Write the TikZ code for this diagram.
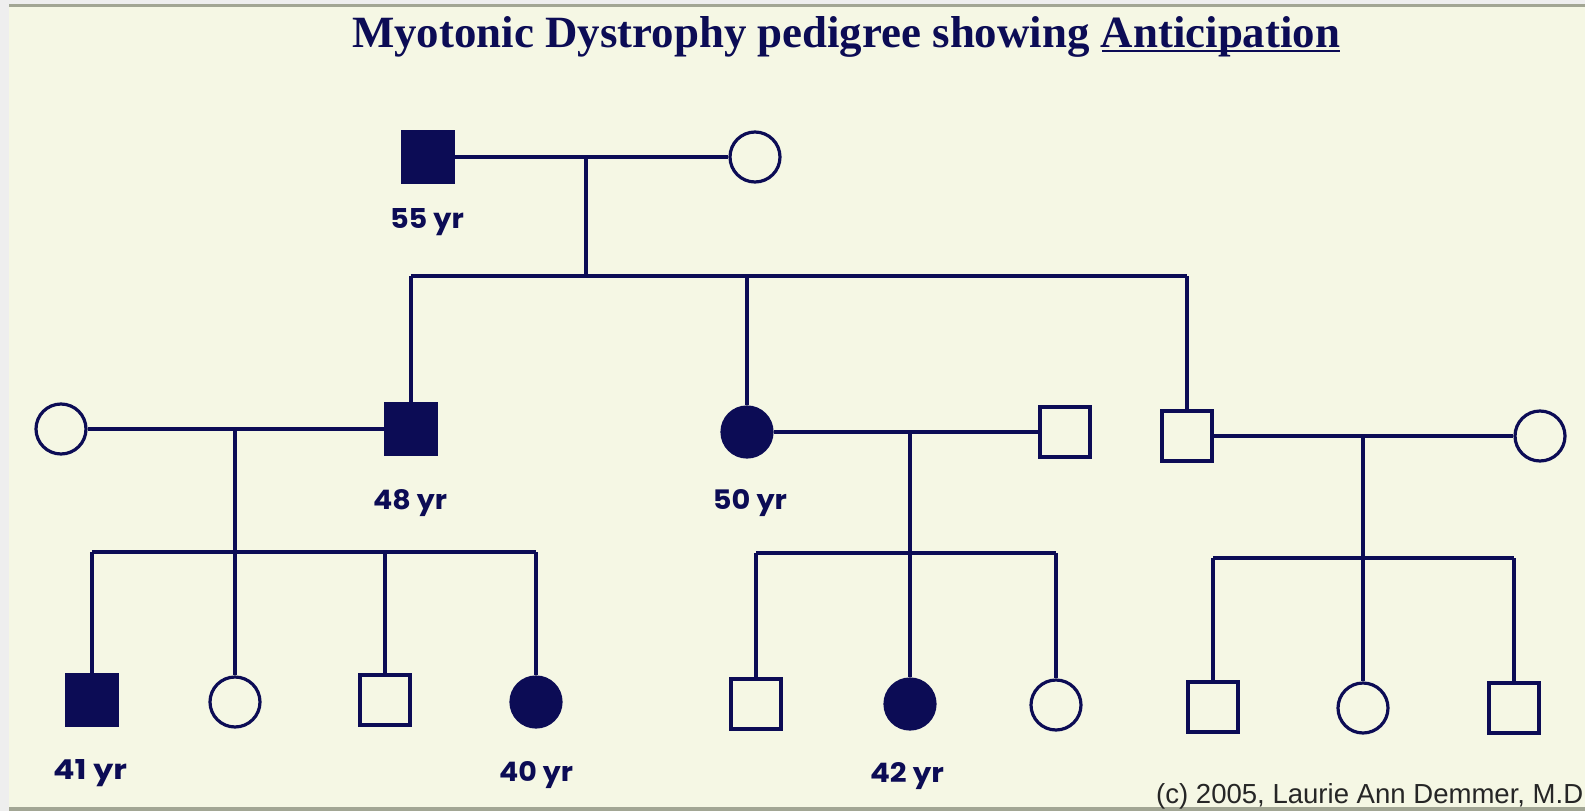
\documentclass[tikz,border=0pt]{standalone}
\usepackage{fontspec}
\usepackage{graphicx}
\setmainfont{Liberation Serif}
\newfontfamily\agefont{Poppins}
\newfontfamily\copyfont{Liberation Sans}
\definecolor{navy}{HTML}{0C0C55}
\definecolor{bgy}{HTML}{F5F7E4}
\definecolor{edgegray}{HTML}{EEEEEE}
\definecolor{rulegray}{HTML}{A2A694}
\newcommand\agetxt[1]{\resizebox{74pt}{20pt}{\agefont\bfseries #1}}
\begin{document}
\begin{tikzpicture}[x=1pt,y=-1pt,
  ln/.style={draw=navy,line width=3.2pt},
  male/.style={rectangle,draw=navy,line width=3.2pt,minimum size=50pt,inner sep=0pt,fill=bgy},
  female/.style={circle,draw=navy,line width=3.2pt,minimum size=50pt,inner sep=0pt,fill=bgy},
  aff/.style={fill=navy},
  agelbl/.style={anchor=base,inner sep=0pt,text=navy}]
\useasboundingbox (0,0) rectangle (1585,811);
% frame and background
\fill[edgegray] (0,0) rectangle (1585,811);
\fill[bgy] (9,6.5) rectangle (1585,807);
\fill[rulegray] (9,4) rectangle (1585,6.5);
\fill[rulegray] (9,807) rectangle (1585,811);

% title
\node[anchor=base west,inner sep=0pt,text=navy] (title) at (352,47)
  {\resizebox{988pt}{31pt}{\bfseries Myotonic Dystrophy pedigree showing Anticipation}};
\draw[navy,line width=2.2pt] ([xshift=-238pt,yshift=-4pt]title.base east) -- ([yshift=-4pt]title.base east);

% generation I
\node[male,aff] (g1m) at (428,157) {};
\node[female] (g1f) at (755,157) {};
\coordinate (g1c) at (586,157);
\coordinate (g1s) at (586,276);

% generation II
\node[female] (g2aw) at (61,429) {};
\node[male,aff] (g2a) at (411,429) {};
\node[female,aff] (g2b) at (747,432) {};
\node[male] (g2bh) at (1065,432) {};
\node[male] (g2c) at (1187,436) {};
\node[female] (g2cw) at (1540,436) {};
\coordinate (fa) at (235,429);
\coordinate (sa) at (235,552);
\coordinate (fb) at (910,432);
\coordinate (sb) at (910,553);
\coordinate (fc) at (1363,436);
\coordinate (sc) at (1363,558);

% generation III
\node[male,aff] (g3a1) at (92,700) {};
\node[female] (g3a2) at (235,702) {};
\node[male] (g3a3) at (385,700) {};
\node[female,aff] (g3a4) at (536,702) {};
\node[male] (g3b1) at (756,704) {};
\node[female,aff] (g3b2) at (910,704) {};
\node[female] (g3b3) at (1056,705) {};
\node[male] (g3c1) at (1213,707) {};
\node[female] (g3c2) at (1363,708) {};
\node[male] (g3c3) at (1514,708) {};

% connectors generation I
\draw[ln] (g1m.east) -- (g1f.west);
\draw[ln] (g1c) -- (g1s);
\draw[ln] (g2a |- g1s) -- (g2c |- g1s);
\draw[ln] (g2a |- g1s) -- (g2a.north);
\draw[ln] (g2b |- g1s) -- (g2b.north);
\draw[ln] (g2c |- g1s) -- (g2c.north);

% family a
\draw[ln] (g2aw.east) -- (g2a.west);
\draw[ln] (fa) -- (sa);
\draw[ln] (g3a1 |- sa) -- (g3a4 |- sa);
\draw[ln] (g3a1 |- sa) -- (g3a1.north);
\draw[ln] (sa) -- (g3a2.north);
\draw[ln] (g3a3 |- sa) -- (g3a3.north);
\draw[ln] (g3a4 |- sa) -- (g3a4.north);

% family b
\draw[ln] (g2b.east) -- (g2bh.west);
\draw[ln] (fb) -- (sb);
\draw[ln] (g3b1 |- sb) -- (g3b3 |- sb);
\draw[ln] (g3b1 |- sb) -- (g3b1.north);
\draw[ln] (sb) -- (g3b2.north);
\draw[ln] (g3b3 |- sb) -- (g3b3.north);

% family c
\draw[ln] (g2c.east) -- (g2cw.west);
\draw[ln] (fc) -- (sc);
\draw[ln] (g3c1 |- sc) -- (g3c3 |- sc);
\draw[ln] (g3c1 |- sc) -- (g3c1.north);
\draw[ln] (sc) -- (g3c2.north);
\draw[ln] (g3c3 |- sc) -- (g3c3.north);

% age labels
\node[agelbl] (l55) at (427,228) {\agetxt{55 yr}};
\node[agelbl] (l48) at (410,509) {\agetxt{48 yr}};
\node[agelbl] (l50) at (750,509) {\agetxt{50 yr}};
\node[agelbl] (l41) at (90,779) {\agetxt{41 yr}};
\node[agelbl] (l40) at (536,781) {\agetxt{40 yr}};
\node[agelbl] (l42) at (907,782) {\agetxt{42 yr}};

% copyright
\node[anchor=base west,inner sep=0pt,text=black!85] (copy) at (1156,803)
  {\resizebox{427pt}{!}{\copyfont (c) 2005, Laurie Ann Demmer, M.D}};
\end{tikzpicture}
\end{document}
